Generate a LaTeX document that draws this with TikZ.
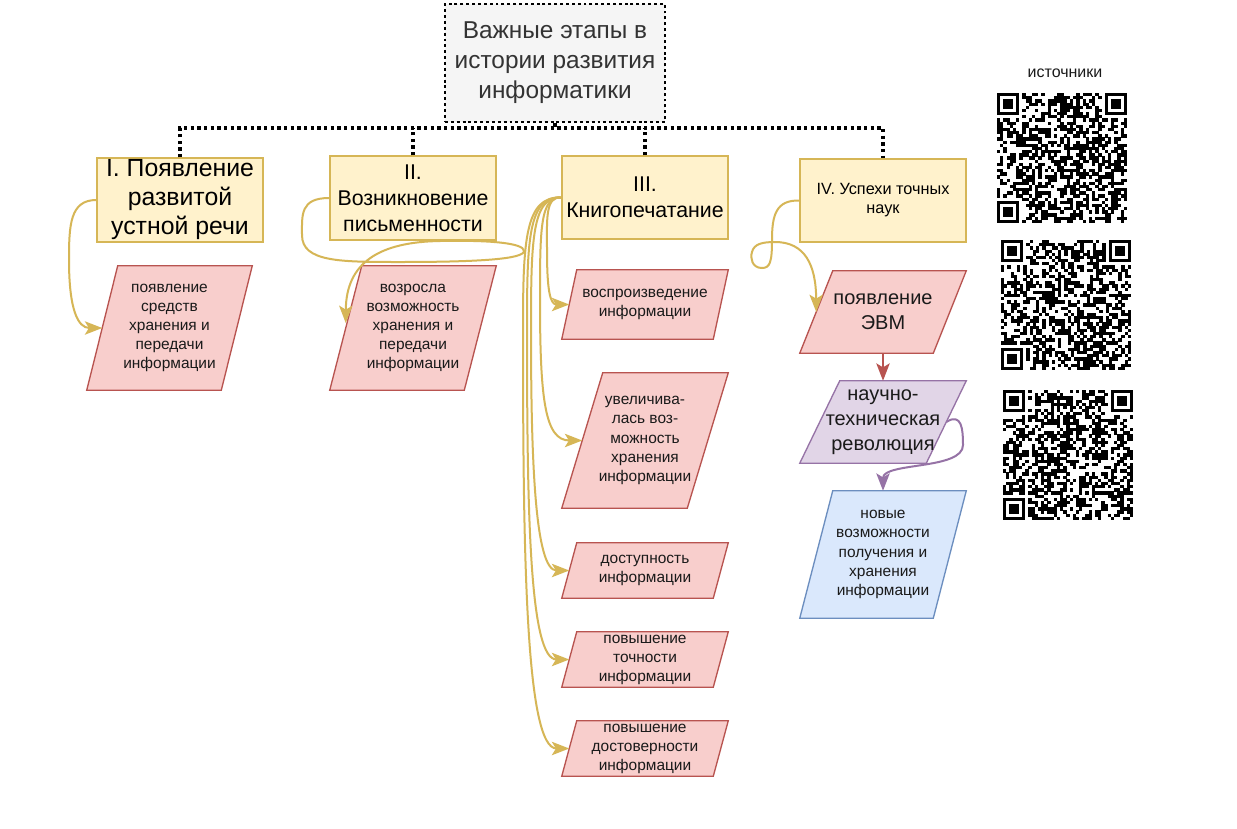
\documentclass[tikz,border=0pt]{standalone}
\usepackage{fontspec}
\setmainfont{Liberation Sans}
\usetikzlibrary{arrows.meta,calc,backgrounds}
\definecolor{yfill}{HTML}{FFF2CC}
\definecolor{ydraw}{HTML}{D6B656}
\definecolor{rfill}{HTML}{F8CECC}
\definecolor{rdraw}{HTML}{B85450}
\definecolor{pfill}{HTML}{E1D5E7}
\definecolor{pdraw}{HTML}{9673A6}
\definecolor{bfill}{HTML}{DAE8FC}
\definecolor{bdraw}{HTML}{6C8EBF}
\definecolor{gfill}{HTML}{F5F5F5}
\definecolor{txtc}{HTML}{1A1A1A}
\definecolor{toptxt}{HTML}{333333}

\newcommand\parashape[3]{%
  \begin{scope}[on background layer]
    \draw[#3] ($(#1.north west)+(#2,0)$) -- (#1.north east) -- ($(#1.south east)-(#2,0)$) -- (#1.south west) -- cycle;
  \end{scope}}

\newcommand\qrpattern[3]{%
  \pgfmathsetseed{#3}
  \foreach \i in {0,...,40}{\foreach \j in {0,...,40}{%
    \pgfmathtruncatemacro\qb{(rnd<0.5)&&!(((\i<8)&&(\j<8))||((\i>32)&&(\j<8))||((\i<8)&&(\j>32)))}%
    \ifnum\qb=1 \fill (#1+\j*3.17,#2+\i*3.17) rectangle ++(3.3,3.3);\fi
  }}
  \foreach \a/\b in {0/0,34/0,0/34}{%
    \fill (#1+\a*3.17,#2+\b*3.17) rectangle ++(22.19,22.19);
    \fill[white] (#1+\a*3.17+3.17,#2+\b*3.17+3.17) rectangle ++(15.85,15.85);
    \fill (#1+\a*3.17+6.34,#2+\b*3.17+6.34) rectangle ++(9.51,9.51);
  }}

\begin{document}
\begin{tikzpicture}[x=0.75pt,y=-0.75pt,
  stagebox/.style={rectangle, draw=ydraw, fill=yfill, line width=1pt, inner sep=0pt, align=center, text=black},
  ptext/.style={rectangle, inner sep=0pt, align=center, text=txtc, font=\fontsize{11.6}{14.3}\selectfont},
  redpara/.style={draw=rdraw, fill=rfill, line width=1pt},
  tree/.style={draw=black, line width=2.6pt, dash pattern=on 2.6pt off 2.4pt},
  tipstyle/.style={-{Stealth[length=13pt,width=10pt,inset=3pt]}},
  yarr/.style={draw=ydraw, line width=1.5pt, tipstyle},
]
\begin{scope}[on background layer]
\fill[white] (0,0) rectangle (1237,828);
\end{scope}
\useasboundingbox (0,0) rectangle (1237,828);

% title
\node[rectangle, draw=black, fill=gfill, line width=2.2pt, dash pattern=on 2.2pt off 2.2pt,
      minimum width=165pt, minimum height=88.5pt, inner sep=0pt, align=center, text=toptxt,
      font=\fontsize{18.3}{22.5}\selectfont] (top) at (555,63)
      {Важные этапы в\\истории развития\\информатики};

% stages
\node[stagebox, minimum width=124.5pt, minimum height=63pt, font=\fontsize{18.6}{21.75}\selectfont] (b1) at (180,200)
  {I. Появление\\развитой\\устной речи};
\node[stagebox, minimum width=124.5pt, minimum height=63pt, font=\fontsize{16}{19.5}\selectfont] (b2) at (413,198)
  {II.\\Возникновение\\письменности};
\node[stagebox, minimum width=124.5pt, minimum height=62.25pt, font=\fontsize{16}{19.5}\selectfont] (b3) at (645,197.5)
  {III.\\Книгопечатание};
\node[stagebox, minimum width=124.5pt, minimum height=62.25pt, font=\fontsize{12.2}{14.25}\selectfont] (b4) at (883,200.5)
  {IV. Успехи точных\\наук};

% tree connectors
\coordinate (hub) at (555,128);
\draw[tree] (top.south) -- (hub);
\draw[tree] (b1.north) |- (hub) -| (b4.north);
\draw[tree] (b2.north) -- (b2.north |- hub);
\draw[tree] (b3.north) -- (b3.north |- hub);

% parallelograms
\node[ptext, minimum width=123.75pt, minimum height=93pt] (p1) at (169.5,328)
  {появление\\средств\\хранения и\\передачи\\информации};
\parashape{p1}{31}{redpara}
\node[ptext, minimum width=124.5pt, minimum height=93pt] (p2) at (413,328)
  {возросла\\возможность\\хранения и\\передачи\\информации};
\parashape{p2}{32}{redpara}
\node[ptext, minimum width=124.5pt, minimum height=51.75pt] (p3a) at (645,304.5)
  {воспроизведение\\информации};
\parashape{p3a}{15}{redpara}
\node[ptext, minimum width=124.5pt, minimum height=101.25pt] (p3b) at (645,440.5)
  {увеличива-\\лась воз-\\можность\\хранения\\информации};
\parashape{p3b}{41}{redpara}
\node[ptext, minimum width=124.5pt, minimum height=41.25pt] (p3c) at (645,570.5)
  {доступность\\информации};
\parashape{p3c}{15}{redpara}
\node[ptext, minimum width=124.5pt, minimum height=41.25pt] (p3d) at (645,659.5)
  {повышение\\точности\\информации};
\parashape{p3d}{15}{redpara}
\node[ptext, minimum width=124.5pt, minimum height=41.25pt] (p3e) at (645,748.5)
  {повышение\\достоверности\\информации};
\parashape{p3e}{15}{redpara}

\node[ptext, minimum width=124.5pt, minimum height=61.5pt, font=\fontsize{15}{18.75}\selectfont] (evm) at (883,312)
  {появление\\ЭВМ};
\parashape{evm}{33}{redpara}
\node[ptext, minimum width=124.5pt, minimum height=61.5pt, font=\fontsize{15}{18.75}\selectfont] (ntr) at (883,422)
  {научно-\\техническая\\революция};
\parashape{ntr}{40}{draw=pdraw, fill=pfill, line width=1pt}
\node[ptext, minimum width=124.5pt, minimum height=95.25pt] (nov) at (883,554.5)
  {новые\\возможности\\получения и\\хранения\\информации};
\parashape{nov}{33}{draw=bdraw, fill=bfill, line width=1pt}

% yellow curved connectors
\draw[yarr] (b1.west) .. controls (70,200) and (69,225) .. (69,260)
  .. controls (69,310) and (78,328) .. ($(p1.west)+(15.5,0)$);
\draw[yarr] (b2.west) .. controls (300,198) and (302,215) .. (302,235)
  .. controls (302,262) and (340,262) .. (400,262)
  .. controls (480,262) and (524,259) .. (524,251)
  .. controls (524,243) and (490,240) .. (440,241)
  .. controls (380,242) and (346,262) .. ($(p2.west)+(16,-5)$);
\draw[yarr] (b3.west) .. controls (545,196) and (547,220) .. (547,250)
  .. controls (547,290) and (550,304.5) .. ($(p3a.west)+(7.5,0)$);
\draw[yarr] (b3.west) .. controls (540,196) and (540,230) .. (540,300)
  .. controls (540,400) and (545,440.5) .. ($(p3b.west)+(20.5,0)$);
\draw[yarr] (b3.west) .. controls (532,196) and (531,240) .. (531,330)
  .. controls (531,460) and (535,570.5) .. ($(p3c.west)+(7.5,0)$);
\draw[yarr] (b3.west) .. controls (528,196) and (527,240) .. (527,330)
  .. controls (527,520) and (530,659.5) .. ($(p3d.west)+(7.5,0)$);
\draw[yarr] (b3.west) .. controls (525,196) and (523,240) .. (523,330)
  .. controls (523,560) and (526,748.5) .. ($(p3e.west)+(7.5,0)$);
\draw[yarr] (b4.west) .. controls (776,200) and (772,215) .. (772,240)
  .. controls (772,262) and (770,268) .. (762,268)
  .. controls (752,268) and (750,258) .. (752,252)
  .. controls (754,244) and (762,242) .. (775,242)
  .. controls (805,242) and (816,265) .. ($(evm.west)+(16.5,0)$);

% red and purple connectors
\draw[draw=rdraw, line width=1.5pt, tipstyle] (evm.south) -- (ntr.north);
\draw[draw=pdraw, line width=1.5pt, tipstyle]
  ($(ntr.east)-(20,0)$) .. controls (962,412) and (963,430) .. (963,445)
  .. controls (963,470) and (883,462) .. (nov.north);

% sources
\node[font=\fontsize{12}{14}\selectfont, text=txtc, inner sep=0pt] (src) at (1065,73) {источники};
\qrpattern{997}{93}{11}
\qrpattern{1001}{240}{23}
\qrpattern{1003}{390}{37}
\end{tikzpicture}
\end{document}
